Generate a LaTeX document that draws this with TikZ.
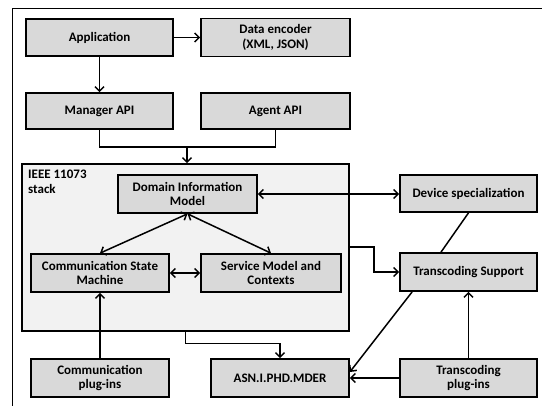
\documentclass[tikz,border=0pt]{standalone}
\usepackage{fontspec}
\setmainfont{Carlito}
\usetikzlibrary{arrows.meta,calc}
\definecolor{boxgray}{HTML}{D9D9D9}
\definecolor{stackgray}{HTML}{F2F2F2}
\tikzset{
  blk/.style={draw=black, line width=1.7pt, fill=boxgray, inner sep=0pt,
    align=center, font=\bfseries\fontsize{13}{14.5}\selectfont},
  stackbox/.style={draw=black, line width=1.5pt, fill=stackgray, inner sep=0pt},
  conn/.style={line width=1.5pt, draw=black},
  tip/.tip={Straight Barb[length=4.5pt,width=9pt,line width=1.5pt]},
  arr/.style={conn, -tip},
  darr/.style={conn, tip-tip},
}
\begin{document}
\begin{tikzpicture}[x=1pt,y=-1pt]
\useasboundingbox (0,0) rectangle (542,406);
% outer frame (runs off the page to the right and bottom)
\draw[line width=1.6pt] (12.5,410) -- (12.5,8.5) -- (546,8.5);

% application layer
\node[blk, minimum width=147pt, minimum height=37pt] (app) at (99.5,37.5) {Application};
\node[blk, minimum width=149pt, minimum height=38pt] (enc) at (275.5,37.5) {Data encoder\\(XML, JSON)};
\node[blk, minimum width=147pt, minimum height=36pt] (mgr) at (99.5,111) {Manager API};
\node[blk, minimum width=149pt, minimum height=36pt] (agt) at (275.5,111) {Agent API};

% IEEE 11073 stack
\node[stackbox, minimum width=327pt, minimum height=167pt] (stack) at (185.5,247.5) {};
\node[anchor=north west, align=left, inner sep=0pt, font=\bfseries\fontsize{13}{14.5}\selectfont]
  (stacklbl) at (28,170) {IEEE 11073\\stack};
\node[blk, minimum width=139pt, minimum height=38pt] (dim) at (187.5,194) {Domain Information\\Model};
\node[blk, minimum width=138pt, minimum height=38pt] (csm) at (100,273) {Communication State\\Machine};
\node[blk, minimum width=140pt, minimum height=38pt] (smc) at (271,273) {Service Model and\\Contexts};

% right column
\node[blk, minimum width=137pt, minimum height=37pt] (dev) at (468.5,193.5) {Device specialization};
\node[blk, minimum width=137pt, minimum height=38pt] (tsup) at (468.5,272) {Transcoding Support};

% bottom row
\node[blk, minimum width=138pt, minimum height=38pt] (cplug) at (100,378) {Communication\\plug-ins};
\node[blk, minimum width=138pt, minimum height=38pt] (asn) at (280,378) {ASN.I.PHD.MDER};
\node[blk, minimum width=137pt, minimum height=38pt] (tplug) at (468.5,378) {Transcoding\\plug-ins};

% connectors
\draw[arr] (app) -- (enc);
\draw[arr] (app) -- (mgr);
\coordinate (join) at (187,147);
\draw[conn] (mgr.south) |- (join);
\draw[conn] (agt.south) |- (join);
\draw[arr] (join) -- (join |- stack.north);

\draw[darr] (csm.north) -- (dim.south);
\draw[darr] (smc.north) -- (dim.south);
\draw[darr] (csm) -- (smc);
\draw[darr] (dim.east) -- (dim.east -| dev.west);

\coordinate (bend) at (374,247);
\draw[arr] (bend -| stack.east) -- (bend) |- (tsup.west);
\draw[conn] (dev.south) -- ($(tsup.north)+(-27.5,0)$);

\draw[arr] (cplug) -- (csm);
\draw[arr] (stack.south) -- ++(0,12) -| (asn.north);
\draw[arr] (tplug) -- (tsup);
\draw[arr] (tplug) -- (asn);
\draw[arr] ($(tsup.south west)+(13,0)$) -- ($(asn.east)+(0,-6)$);
\end{tikzpicture}
\end{document}
